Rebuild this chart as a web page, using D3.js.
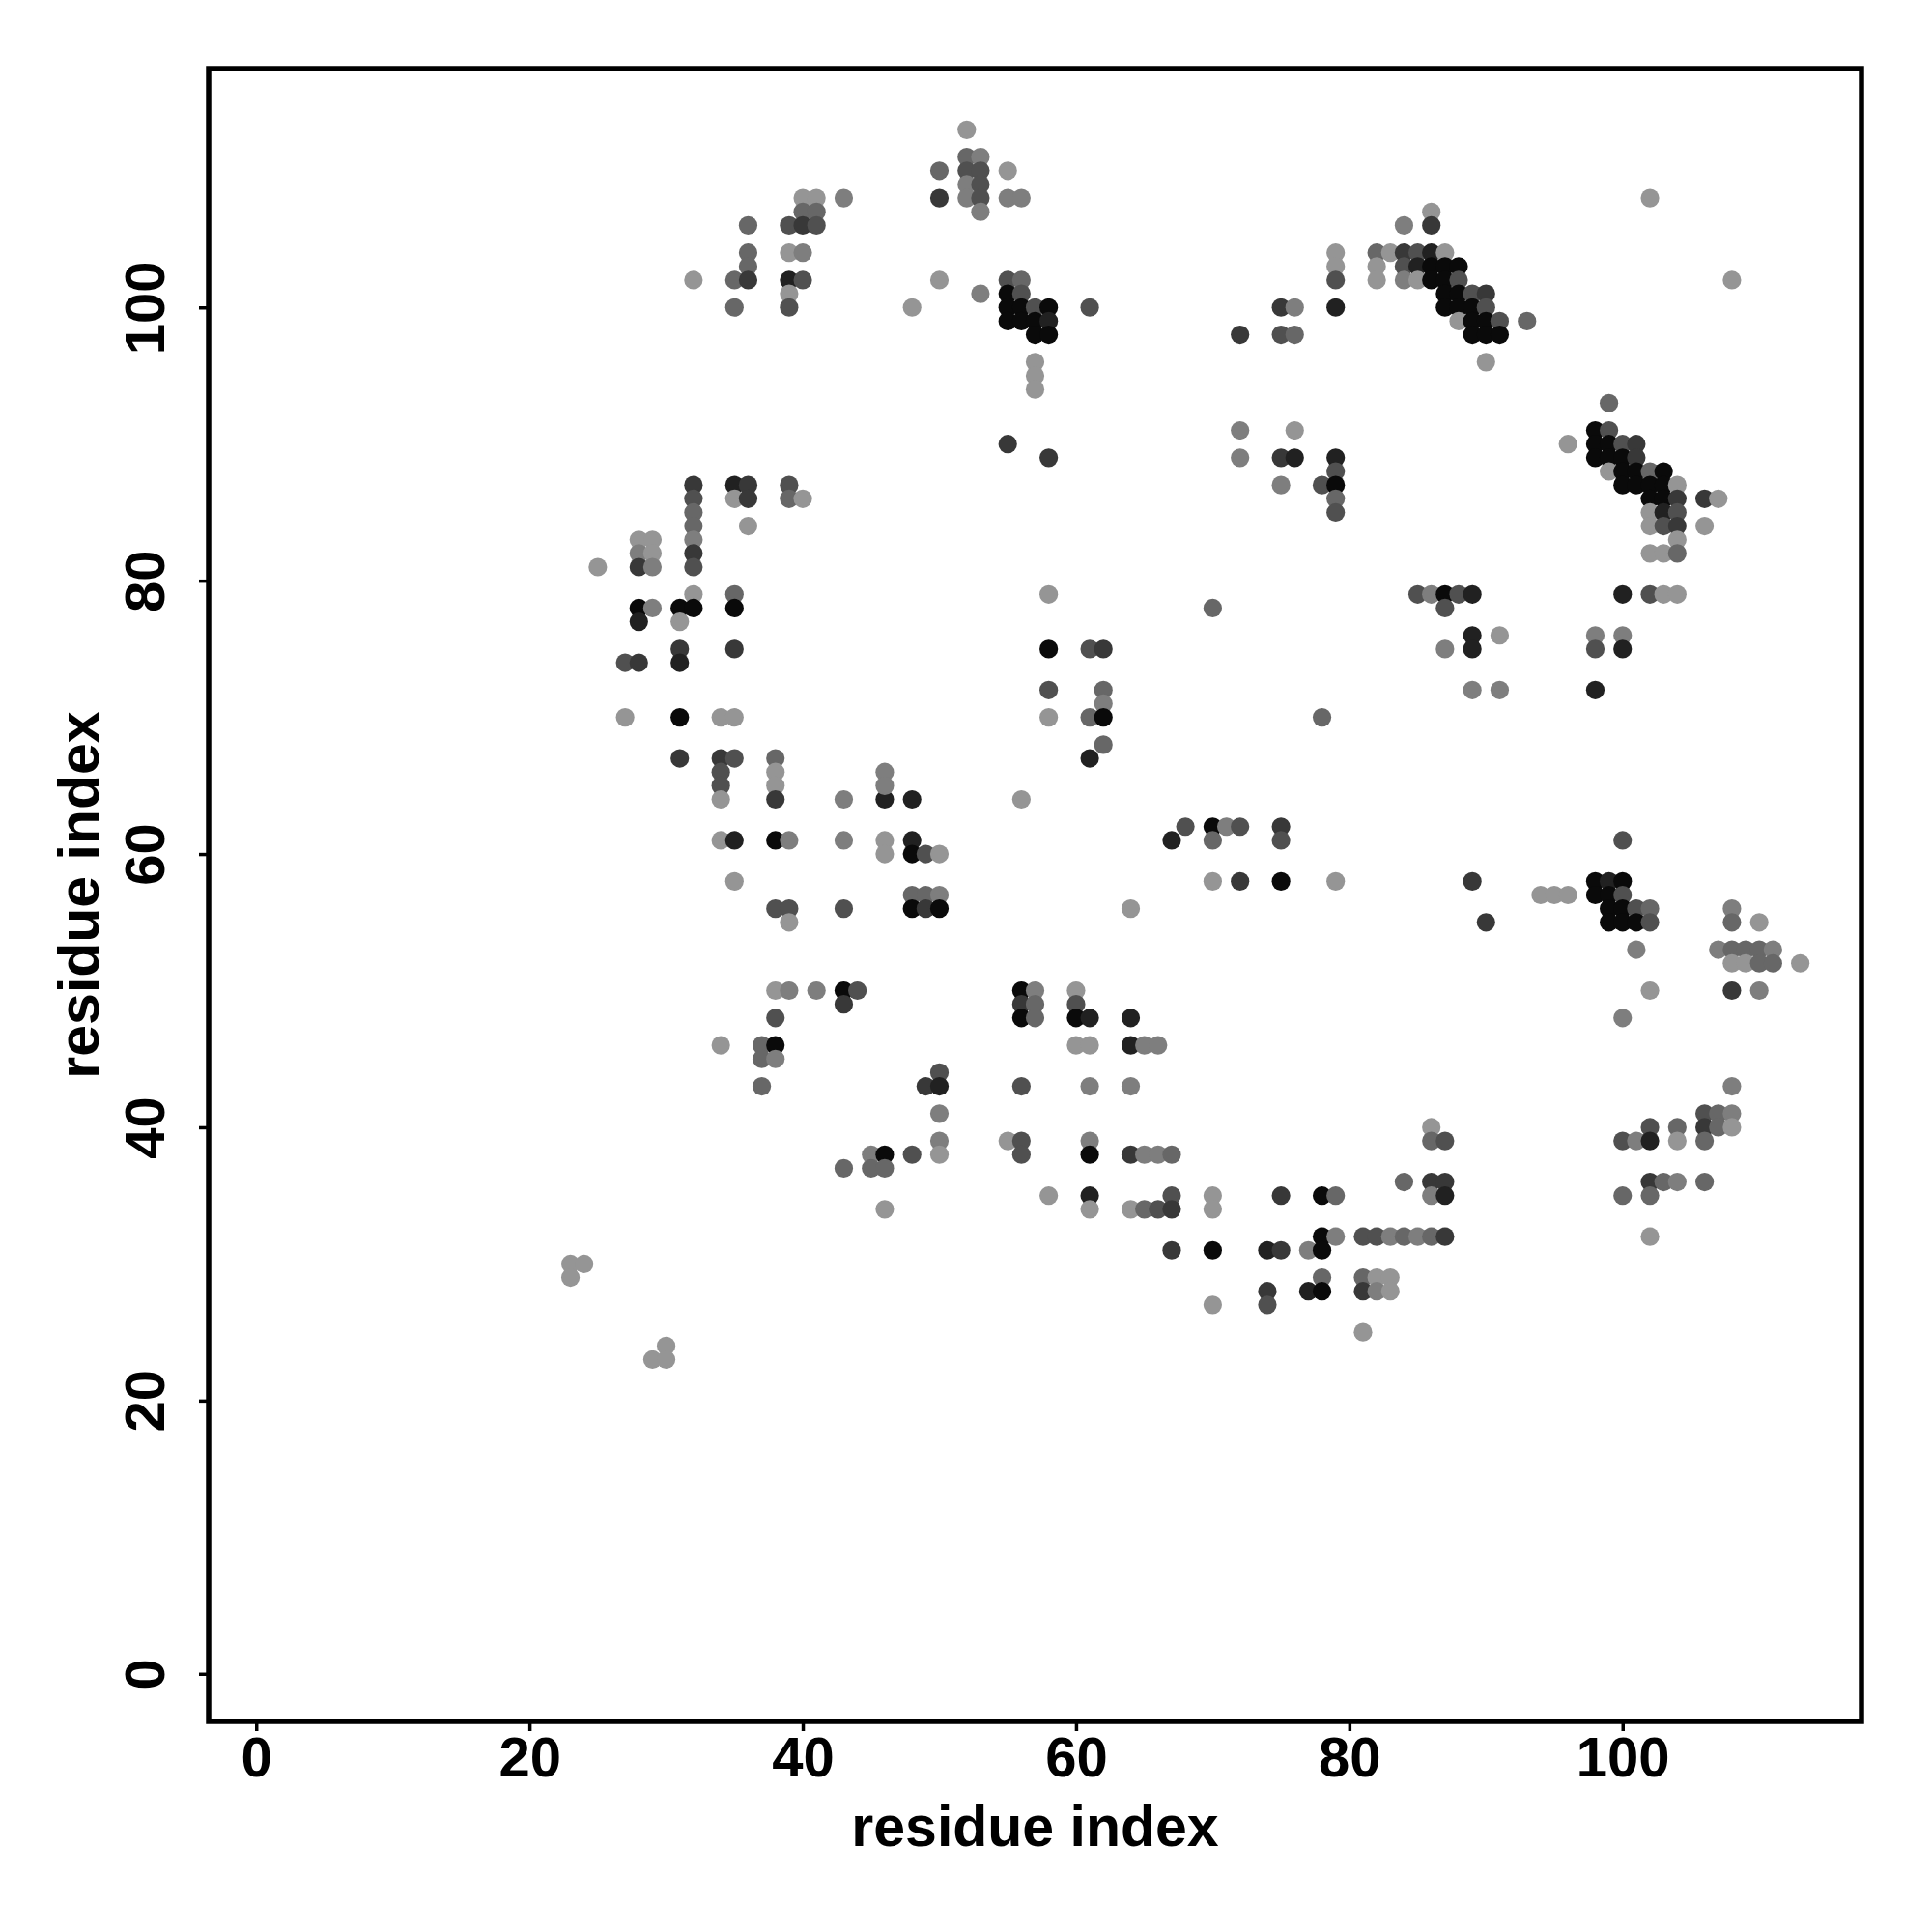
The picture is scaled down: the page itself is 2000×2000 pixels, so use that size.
<!DOCTYPE html>
<html>
<head>
<meta charset="utf-8">
<script src="https://cdn.jsdelivr.net/npm/d3@7"></script>
<style>
  html, body { margin: 0; padding: 0; background: #ffffff; }
  svg { display: block; }
</style>
</head>
<body>
<svg id="chart" width="2000" height="2000"></svg>
<script>
// ---- data ----
const xTicks = [0, 20, 40, 60, 80, 100];
const yTicks = [0, 20, 40, 60, 80, 100];
const xTitle = "residue index";
const yTitle = "residue index";
const axisDomain = [-3.48, 117.48];
// shade level: 1 = lightest grey ... 7 = black
const levelRange = [1, 7];

// contacts: [residue i, residue j, shade level]
const contacts = [
  [50,110,3],[50,108,5],[40,108,1],[41,108,1],[43,108,2],[40,107,3],[41,107,3],
  [36,106,3],[39,106,4],[40,106,5],[41,106,4],[36,104,3],[39,104,1],[40,104,2],[36,103,3],
  [32,102,1],[35,102,3],[36,102,5],[39,102,6],[40,102,4],[50,102,1],[39,101,1],
  [35,100,3],[39,100,4],[48,100,1],
  [32,87,5],[35,87,6],[36,87,5],[39,87,4],[32,86,4],[35,86,1],[36,86,5],[39,86,3],[40,86,1],
  [36,84,1],[32,85,3],[32,84,3],[32,83,2],[28,83,1],[29,83,1],
  [52,113,1],[52,111,3],[53,111,2],[52,110,4],[53,110,4],[55,110,1],[52,109,2],[53,109,4],
  [52,108,2],[53,108,4],[55,108,2],[56,108,2],[53,107,2],[53,101,2],
  [55,102,4],[56,102,3],[55,101,7],[56,101,4],[55,100,7],[56,100,7],[57,100,4],[58,100,7],
  [55,99,7],[56,99,7],[57,99,7],[58,99,6],[57,98,7],[58,98,7],[61,100,4],
  [57,96,1],[57,95,1],[57,94,1],[55,90,5],[58,89,5],
  [79,104,1],[79,103,1],[79,102,4],[82,104,3],[83,104,1],[82,103,1],[82,102,1],
  [75,100,5],[76,100,2],[79,100,6],[72,98,5],[75,98,4],[76,98,3],[72,91,2],[76,91,1],
  [72,89,2],[75,89,5],[76,89,6],[79,89,6],[79,88,4],[75,87,2],[78,87,4],[79,87,7],
  [79,86,3],[79,85,4],
  [102,108,1],[86,107,1],[86,106,5],[84,106,2],
  [84,104,5],[85,104,4],[86,104,6],[87,104,1],
  [84,103,4],[85,103,6],[86,103,7],[87,103,7],[88,103,7],
  [84,102,2],[85,102,1],[86,102,7],[87,102,7],[88,102,4],
  [87,101,7],[88,101,7],[89,101,4],[90,101,5],
  [87,100,7],[88,100,7],[89,100,7],[90,100,4],
  [88,99,1],[89,99,7],[90,99,7],[91,99,4],[93,99,3],
  [89,98,7],[90,98,7],[91,98,7],[90,96,1],[108,102,1],
  [99,93,3],[98,91,7],[99,91,4],
  [96,90,1],[98,90,7],[99,90,7],[100,90,4],[101,90,5],
  [98,89,7],[99,89,7],[100,89,7],[101,89,5],
  [99,88,1],[100,88,7],[101,88,7],[102,88,3],[103,88,7],
  [100,87,7],[101,87,7],[102,87,7],[103,87,7],[104,87,1],
  [102,86,7],[103,86,7],[104,86,5],[106,86,5],[107,86,1],
  [102,85,1],[103,85,6],[104,85,4],
  [102,84,1],[103,84,4],[104,84,5],[106,84,1],[104,83,1],
  [28,82,2],[29,82,1],[32,82,5],[25,81,1],[28,81,5],[29,81,2],[32,81,4],
  [32,79,1],[35,79,3],[28,78,7],[29,78,2],[31,78,7],[32,78,7],[35,78,7],
  [28,77,6],[31,77,1],[31,75,5],[35,75,5],[27,74,4],[28,74,5],[31,74,6],
  [27,70,1],[31,70,7],[34,70,1],[35,70,1],
  [31,67,5],[34,67,5],[35,67,4],[38,67,3],[34,66,4],[38,66,1],[34,65,4],[38,65,1],
  [34,64,1],[38,64,5],[43,64,2],[46,64,6],[48,64,6],[46,66,2],[46,65,2],
  [34,61,1],[35,61,6],[38,61,7],[39,61,2],[43,61,2],[46,61,1],[48,61,6],
  [46,60,1],[48,60,7],[49,60,4],[50,60,1],[35,58,1],
  [48,57,3],[49,57,3],[50,57,2],
  [38,56,4],[39,56,4],[43,56,4],[48,56,7],[49,56,5],[50,56,7],[39,55,1],
  [58,79,1],[70,78,3],[58,75,7],[61,75,4],[62,75,5],[58,72,4],[62,72,3],[62,71,2],
  [58,70,1],[61,70,3],[62,70,7],[62,68,3],[61,67,6],[78,70,3],[56,64,1],
  [68,62,4],[70,62,7],[71,62,2],[72,62,4],[75,62,5],[67,61,6],[70,61,3],[75,61,4],
  [70,58,1],[72,58,5],[75,58,7],[79,58,1],[64,56,1],
  [102,82,1],[103,82,1],[104,82,3],
  [85,79,4],[86,79,2],[87,79,7],[88,79,4],[89,79,6],[100,79,6],[102,79,4],[103,79,1],[104,79,1],
  [87,78,4],[89,76,6],[91,76,1],[98,76,2],[100,76,2],
  [87,75,2],[89,75,6],[98,75,4],[100,75,6],[89,72,2],[91,72,2],[98,72,6],
  [100,61,4],[89,58,5],[98,58,7],[99,58,6],[100,58,7],
  [94,57,1],[95,57,1],[96,57,1],[98,57,7],[99,57,7],[100,57,4],
  [99,56,7],[100,56,7],[101,56,4],[102,56,3],
  [90,55,5],[99,55,7],[100,55,7],[101,55,7],[102,55,4],
  [108,56,2],[108,55,3],[110,55,1],[101,53,2],
  [107,53,2],[108,53,3],[109,53,3],[110,53,3],[111,53,2],
  [108,52,1],[109,52,1],[110,52,3],[111,52,3],[113,52,1],
  [38,50,1],[39,50,2],[41,50,2],[43,50,7],[44,50,4],[43,49,5],[38,48,4],
  [34,46,1],[37,46,3],[38,46,7],[37,45,3],[38,45,2],[37,43,3],
  [50,44,4],[49,43,5],[50,43,6],[50,41,2],[50,39,2],[50,38,1],
  [45,38,2],[46,38,7],[48,38,4],[43,37,3],[45,37,3],[46,37,3],[46,34,1],
  [23,30,1],[24,30,1],[23,29,1],[30,24,1],[29,23,1],[30,23,1],
  [56,50,7],[57,50,2],[60,50,1],[56,49,5],[57,49,3],[60,49,4],
  [56,48,7],[57,48,3],[60,48,7],[61,48,6],[64,48,6],
  [60,46,1],[61,46,1],[64,46,6],[65,46,2],[66,46,2],
  [56,43,4],[61,43,2],[64,43,2],[55,39,1],[56,39,4],[61,39,2],
  [56,38,4],[61,38,7],[64,38,5],[65,38,2],[66,38,2],[67,38,3],
  [58,35,1],[61,35,6],[67,35,4],[70,35,1],[75,35,5],[78,35,7],[79,35,3],
  [61,34,1],[64,34,1],[65,34,3],[66,34,4],[67,34,5],[70,34,1],
  [78,32,7],[79,32,2],[81,32,4],[82,32,4],
  [67,31,5],[70,31,7],[74,31,6],[75,31,5],[77,31,2],[78,31,7],
  [78,29,3],[81,29,3],[82,29,1],
  [74,28,5],[77,28,6],[78,28,7],[81,28,5],[82,28,2],
  [70,27,1],[74,27,4],[81,25,1],
  [102,50,1],[108,50,5],[110,50,2],[100,48,2],[108,43,2],
  [106,41,4],[107,41,3],[108,41,2],
  [86,40,1],[102,40,4],[104,40,3],[106,40,5],[107,40,3],[108,40,1],
  [86,39,3],[87,39,4],[100,39,4],[101,39,2],[102,39,6],[104,39,1],[106,39,3],
  [84,36,3],[86,36,5],[87,36,5],[102,36,5],[103,36,3],[104,36,2],[106,36,3],
  [86,35,2],[87,35,6],[100,35,3],[102,35,3],
  [83,32,2],[84,32,3],[85,32,2],[86,32,3],[87,32,5],
  [83,29,1],[83,28,1],[102,32,1]
];

// ---- drawing ----
(function () {
  const svg = d3.select("#chart");
  const pLeft = 216, pRight = 1927, pTop = 71, pBottom = 1782;
  const fontFamily = "'Liberation Sans', Arial, Helvetica, sans-serif";

  svg.append("rect").attr("x", 0).attr("y", 0).attr("width", 2000).attr("height", 2000).attr("fill", "#ffffff");

  const x = d3.scaleLinear().domain(axisDomain).range([pLeft, pRight]);
  const y = d3.scaleLinear().domain(axisDomain).range([pBottom, pTop]);
  const shade = d3.scaleLinear().domain(levelRange).range(["#959595", "#0a0a0a"]);

  svg.append("g")
    .selectAll("circle")
    .data(contacts)
    .join("circle")
    .attr("cx", d => x(d[0]))
    .attr("cy", d => y(d[1]))
    .attr("r", 9.6)
    .attr("fill", d => shade(d[2]));

  // x axis
  const gx = svg.append("g")
    .attr("transform", `translate(0,${pBottom})`)
    .call(d3.axisBottom(x).tickValues(xTicks).tickSize(10).tickFormat(d3.format("d")));
  gx.select(".domain").remove();
  gx.selectAll(".tick line").attr("stroke", "#000").attr("stroke-width", 3.5);
  gx.selectAll(".tick text")
    .attr("y", 57).attr("dy", null)
    .attr("fill", "#000")
    .attr("font-family", fontFamily).attr("font-weight", "bold").attr("font-size", 58);

  // y axis
  const gy = svg.append("g")
    .attr("transform", `translate(${pLeft},0)`)
    .call(d3.axisLeft(y).tickValues(yTicks).tickSize(10).tickFormat(d3.format("d")));
  gy.select(".domain").remove();
  gy.selectAll(".tick line").attr("stroke", "#000").attr("stroke-width", 3.5);
  gy.selectAll(".tick text")
    .attr("x", null).attr("dy", null)
    .attr("text-anchor", "middle")
    .attr("transform", "translate(-46,0) rotate(-90)")
    .attr("fill", "#000")
    .attr("font-family", fontFamily).attr("font-weight", "bold").attr("font-size", 58);

  // frame
  svg.append("rect")
    .attr("x", pLeft).attr("y", pTop)
    .attr("width", pRight - pLeft).attr("height", pBottom - pTop)
    .attr("fill", "none").attr("stroke", "#000").attr("stroke-width", 5.5);

  // titles
  svg.append("text")
    .attr("x", (pLeft + pRight) / 2).attr("y", 1911)
    .attr("text-anchor", "middle")
    .attr("font-family", fontFamily).attr("font-weight", "bold").attr("font-size", 59)
    .attr("fill", "#000")
    .text(xTitle);

  svg.append("text")
    .attr("transform", `translate(102,${(pTop + pBottom) / 2}) rotate(-90)`)
    .attr("text-anchor", "middle")
    .attr("font-family", fontFamily).attr("font-weight", "bold").attr("font-size", 59)
    .attr("fill", "#000")
    .text(yTitle);
})();
</script>
</body>
</html>
